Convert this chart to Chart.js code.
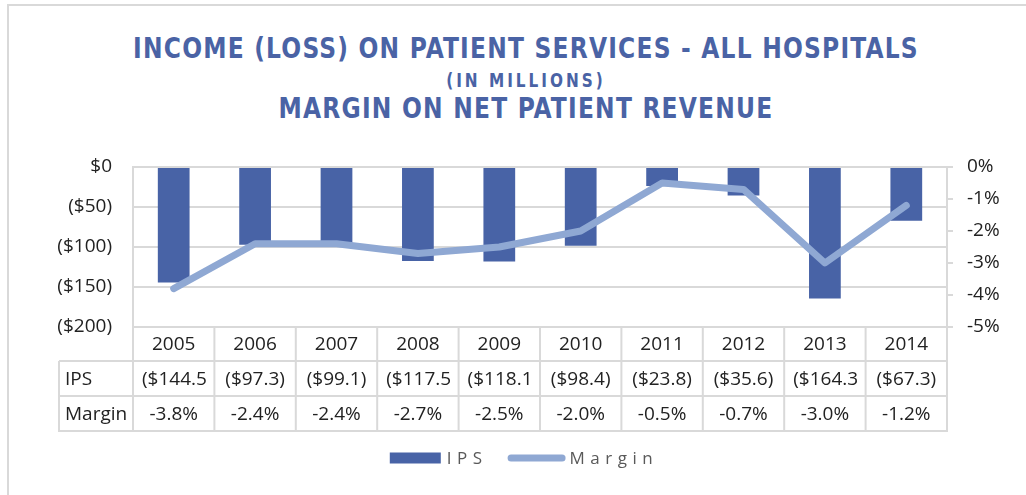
<!DOCTYPE html>
<html>
<head>
<meta charset="utf-8">
<script src="https://cdn.jsdelivr.net/npm/chart.js@4.4.1/dist/chart.umd.min.js"></script>
<style>
  html, body { margin: 0; padding: 0; background: #fff; }
  #wrap { position: relative; width: 1026px; height: 495px; overflow: hidden; }
  #frame { position: absolute; left: 7px; top: 4px; width: 1100px; height: 600px; border: 2px solid #d9d9d9; }
  .title { position: absolute; left: 0; width: 1052px; text-align: center; color: #4a63a5; font-weight: bold;
           font-family: "Liberation Sans Narrow", "DejaVu Sans Condensed", "Open Sans", sans-serif; white-space: nowrap;
           transform: scaleY(1.12); }
  #t1 { top: 32px; font-size: 26px; letter-spacing: 1.2px; line-height: 32px; }
  #t2 { top: 69px; font-size: 17px; letter-spacing: 3px; line-height: 22px; }
  #t3 { top: 92px; font-size: 26px; letter-spacing: 1.2px; line-height: 32px; }
  canvas { position: absolute; left: 0; top: 0; }
</style>
</head>
<body>
<div id="wrap">
  <div id="frame"></div>
  <div class="title" id="t1">INCOME (LOSS) ON PATIENT SERVICES - ALL HOSPITALS</div>
  <div class="title" id="t2">(IN MILLIONS)</div>
  <div class="title" id="t3">MARGIN ON NET PATIENT REVENUE</div>
  <canvas id="ips-chart" width="1026" height="495"></canvas>
</div>
<script>
'use strict';

// DATA

let years = ['2005', '2006', '2007', '2008', '2009', '2010', '2011', '2012', '2013', '2014'];
let ipsValues = [-144.5, -97.3, -99.1, -117.5, -118.1, -98.4, -23.8, -35.6, -164.3, -67.3];
let marginValues = [-3.8, -2.4, -2.4, -2.7, -2.5, -2.0, -0.5, -0.7, -3.0, -1.2];
let ipsTicks = [-200, -150, -100, -50, 0];
let marginTicks = [-5, -4, -3, -2, -1, 0];

// STYLE

let barColor = '#4863a6';
let lineColor = '#8fa8d3';
let gridColor = '#d9d9d9';
let textColor = '#222222';
let fontFamily = '"Open Sans", sans-serif';

function fmtIps(v) {
  return v === 0 ? '$0' : '($' + Math.abs(v) + ')';
}

function fmtIpsCell(v) {
  return '($' + Math.abs(v).toFixed(1) + ')';
}

function fmtMarginCell(v) {
  return v.toFixed(1) + '%';
}

// DATA TABLE + LEGEND UNDER THE PLOT

let tablePlugin = {
  id: 'dataTable',
  afterDraw(chart) {
    let ctx = chart.ctx;
    let area = chart.chartArea;
    let xScale = chart.scales.x;
    let colW = (area.right - area.left) / years.length;
    let rowTops = [area.bottom, area.bottom + 34, area.bottom + 69, area.bottom + 104];
    let headLeft = 59;

    ctx.save();
    ctx.strokeStyle = gridColor;
    ctx.lineWidth = 2;

    // horizontal lines
    ctx.beginPath();
    for (let r = 1; r < rowTops.length; r++) {
      ctx.moveTo(headLeft, rowTops[r]);
      ctx.lineTo(area.right + 1, rowTops[r]);
    }
    // vertical lines
    for (let i = 0; i <= years.length; i++) {
      let x = area.left + i * colW;
      ctx.moveTo(x, rowTops[0]);
      ctx.lineTo(x, rowTops[3] + 1);
    }
    ctx.moveTo(headLeft, rowTops[1]);
    ctx.lineTo(headLeft, rowTops[3] + 1);
    ctx.stroke();

    ctx.fillStyle = textColor;
    ctx.font = '19px ' + fontFamily;
    ctx.textBaseline = 'middle';

    let rows = [
      { label: '', cells: years },
      { label: 'IPS', cells: ipsValues.map(fmtIpsCell) },
      { label: 'Margin', cells: marginValues.map(fmtMarginCell) }
    ];

    rows.forEach((row, r) => {
      let yMid = (rowTops[r] + rowTops[r + 1]) / 2 + 1;
      if (row.label) {
        ctx.textAlign = 'left';
        ctx.fillText(row.label, headLeft + 6, yMid);
      }
      row.cells.forEach((txt, i) => {
        let cx = xScale.getPixelForValue(i);
        let left = cx - colW / 2;
        // cells that do not fit get clipped, like the original table
        if (ctx.measureText(txt).width > colW - 14) {
          while (ctx.measureText(txt).width > colW - 14) {
            txt = txt.slice(0, -1);
          }
          ctx.textAlign = 'left';
          ctx.fillText(txt, left + 9, yMid);
        } else {
          ctx.textAlign = 'center';
          ctx.fillText(txt, cx, yMid);
        }
      });
    });

    // legend
    ctx.font = '17px ' + fontFamily;
    ctx.letterSpacing = '5.5px';
    ctx.fillStyle = '#595959';
    ctx.textAlign = 'left';
    let wIps = ctx.measureText('IPS').width;
    let wMargin = ctx.measureText('Margin').width;
    let total = 51 + 6 + wIps + 20 + 58 + 4 + wMargin;
    let lx = chart.width / 2 + 11 - total / 2;
    let ly = 458;

    ctx.fillStyle = barColor;
    ctx.fillRect(lx, ly - 5.5, 51, 11);
    lx += 51 + 6;
    ctx.fillStyle = '#595959';
    ctx.fillText('IPS', lx, ly + 1);
    lx += wIps + 20;

    ctx.strokeStyle = lineColor;
    ctx.lineWidth = 7;
    ctx.lineCap = 'round';
    ctx.beginPath();
    ctx.moveTo(lx + 3.5, ly);
    ctx.lineTo(lx + 58 - 3.5, ly);
    ctx.stroke();
    lx += 58 + 4;
    ctx.fillText('Margin', lx, ly + 1);

    ctx.restore();
  }
};

// CHART

let ctx = document.getElementById('ips-chart');

let chartObject = {
  type: 'bar',
  data: {
    labels: years,
    datasets: [
      {
        type: 'line',
        label: 'Margin',
        data: marginValues,
        yAxisID: 'y2',
        borderColor: lineColor,
        backgroundColor: lineColor,
        borderWidth: 7,
        borderCapStyle: 'round',
        borderJoinStyle: 'round',
        pointRadius: 0,
        tension: 0,
        order: 0
      },
      {
        label: 'IPS',
        data: ipsValues,
        yAxisID: 'y',
        backgroundColor: barColor,
        barPercentage: 0.39,
        categoryPercentage: 1,
        order: 1
      }
    ]
  },
  options: {
    responsive: false,
    animation: false,
    devicePixelRatio: 1,
    layout: {
      padding: { top: 167, bottom: 168, left: 0, right: 0 }
    },
    plugins: {
      legend: { display: false },
      title: { display: false },
      tooltip: { enabled: false }
    },
    scales: {
      x: {
        grid: { display: false },
        border: { display: false },
        ticks: { display: false },
        afterFit: (s) => { s.height = 0; }
      },
      y: {
        position: 'left',
        min: -200,
        max: 0,
        afterBuildTicks: (s) => { s.ticks = ipsTicks.map(v => ({ value: v })); },
        afterFit: (s) => { s.width = 133; },
        grid: { color: gridColor, lineWidth: 2, drawTicks: false },
        border: { display: true, color: gridColor, width: 2 },
        ticks: {
          color: textColor,
          font: { family: fontFamily, size: 19 },
          padding: 21,
          callback: (v) => fmtIps(v)
        }
      },
      y2: {
        position: 'right',
        min: -5,
        max: 0,
        afterBuildTicks: (s) => { s.ticks = marginTicks.map(v => ({ value: v })); },
        afterFit: (s) => { s.width = 79; },
        grid: { drawOnChartArea: false, color: gridColor, lineWidth: 2, tickLength: 6 },
        border: { display: true, color: gridColor, width: 2 },
        ticks: {
          color: textColor,
          font: { family: fontFamily, size: 19 },
          padding: 14,
          callback: (v) => v + '%'
        }
      }
    }
  },
  plugins: [tablePlugin]
};

const ipsChart = new Chart(ctx, chartObject);
</script>
</body>
</html>
